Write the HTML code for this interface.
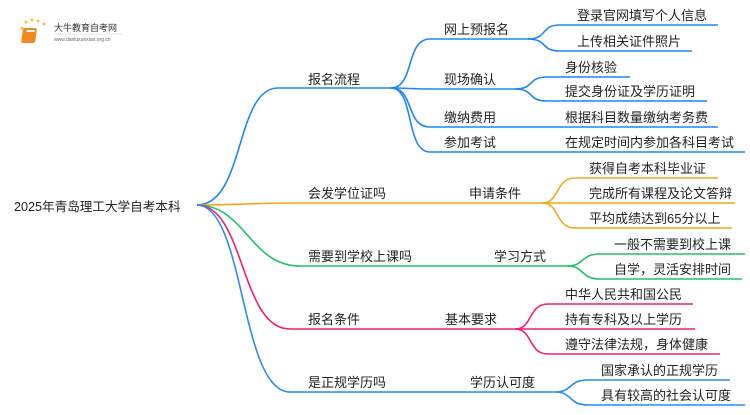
<!DOCTYPE html>
<html><head><meta charset="utf-8"><style>
html,body{margin:0;padding:0;background:#fff;}
svg text{font-family:"Liberation Sans","Noto Sans CJK SC",sans-serif;fill:#222;}
</style></head><body>
<svg width="750" height="410" viewBox="0 0 750 410" xmlns="http://www.w3.org/2000/svg">
<g fill="none" stroke-width="1.6">
<g stroke="#1f86f3">
<path d="M197,205 C245,205 235,88 278,88 L391,88"/>
<path d="M391,88 C415,88 405,39 430,39 L528,39"/>
<path d="M391,88 C410,88 410,89 430,89 L515,89"/>
<path d="M391,88 C415,88 405,127 430,127 L718,127"/>
<path d="M391,88 C415,88 405,152 430,152 L745,152"/>
<path d="M528,39 C548,39 540,25 560,25 L718,25"/>
<path d="M528,39 C548,39 540,51 560,51 L692,51"/>
<path d="M515,89 C535,89 527,77 547,77 L630,77"/>
<path d="M515,89 C535,89 527,101 547,101 L707,101"/>
</g>
<g stroke="#f2a81d">
<path d="M197,205 C240,205 250,203 300,203 L542,203"/>
<path d="M542,203 C560,203 555,178 575,178 L718,178"/>
<path d="M542,203 L735,203"/>
<path d="M542,203 C560,203 555,228 575,228 L732,228"/>
</g>
<g stroke="#22c06a">
<path d="M197,205 C245,205 250,266 300,266 L567,266"/>
<path d="M567,266 C585,266 580,254 600,254 L745,254"/>
<path d="M567,266 C585,266 580,279 600,279 L742,279"/>
</g>
<g stroke="#f0206e">
<path d="M197,205 C245,205 240,329 290,329 L515,329"/>
<path d="M515,329 C533,329 528,304 548,304 L693,304"/>
<path d="M515,329 L695,329"/>
<path d="M515,329 C533,329 528,354 548,354 L720,354"/>
</g>
<g stroke="#2a8cf0">
<path d="M197,205 C245,205 240,392 290,392 L555,392"/>
<path d="M555,392 C573,392 568,380 588,380 L730,380"/>
<path d="M555,392 C573,392 568,405 588,405 L745,405"/>
</g>
</g>
<g font-size="13">
<text x="14" y="211" font-size="12.6">2025年青岛理工大学自考本科</text>
<text x="308" y="84">报名流程</text>
<text x="308" y="198">会发学位证吗</text>
<text x="308" y="261">需要到学校上课吗</text>
<text x="308" y="324">报名条件</text>
<text x="308" y="387">是正规学历吗</text>
<text x="444" y="34">网上预报名</text>
<text x="444" y="84">现场确认</text>
<text x="444" y="122">缴纳费用</text>
<text x="444" y="147">参加考试</text>
<text x="469" y="198">申请条件</text>
<text x="494" y="261">学习方式</text>
<text x="445" y="324">基本要求</text>
<text x="470" y="387">学历认可度</text>
<text x="577" y="20">登录官网填写个人信息</text>
<text x="577" y="46">上传相关证件照片</text>
<text x="565" y="72">身份核验</text>
<text x="565" y="96">提交身份证及学历证明</text>
<text x="565" y="122">根据科目数量缴纳考务费</text>
<text x="565" y="147">在规定时间内参加各科目考试</text>
<text x="589" y="173">获得自考本科毕业证</text>
<text x="589" y="198">完成所有课程及论文答辩</text>
<text x="589" y="223">平均成绩达到65分以上</text>
<text x="614" y="249">一般不需要到校上课</text>
<text x="614" y="274">自学，灵活安排时间</text>
<text x="565" y="299">中华人民共和国公民</text>
<text x="565" y="324">持有专科及以上学历</text>
<text x="565" y="349">遵守法律法规，身体健康</text>
<text x="601" y="375">国家承认的正规学历</text>
<text x="601" y="400">具有较高的社会认可度</text>
</g>
<g>
<circle cx="22" cy="28" r="1.5" fill="#f7c04a"/>
<circle cx="26" cy="22" r="1.5" fill="#f7c04a"/>
<circle cx="32" cy="20" r="1.5" fill="#f7c04a"/>
<circle cx="38" cy="21" r="1.5" fill="#f7c04a"/>
<circle cx="44" cy="24" r="1.5" fill="#f7c04a"/>
<rect x="27" y="28" width="14" height="15" rx="2" fill="#f08a1c" transform="skewX(-8)"/>
<rect x="31" y="30" width="8" height="2" fill="#fff" transform="skewX(-8)"/>
<text x="54" y="31" font-size="9" style="fill:#333">大牛教育自考网</text>
<line x1="54" y1="34" x2="122" y2="34" stroke="#ccc" stroke-width="0.5"/>
<text x="54" y="41" font-size="5" style="fill:#666">www.daniuxuexiao.org.cn</text>
</g>
</svg>
</body></html>
